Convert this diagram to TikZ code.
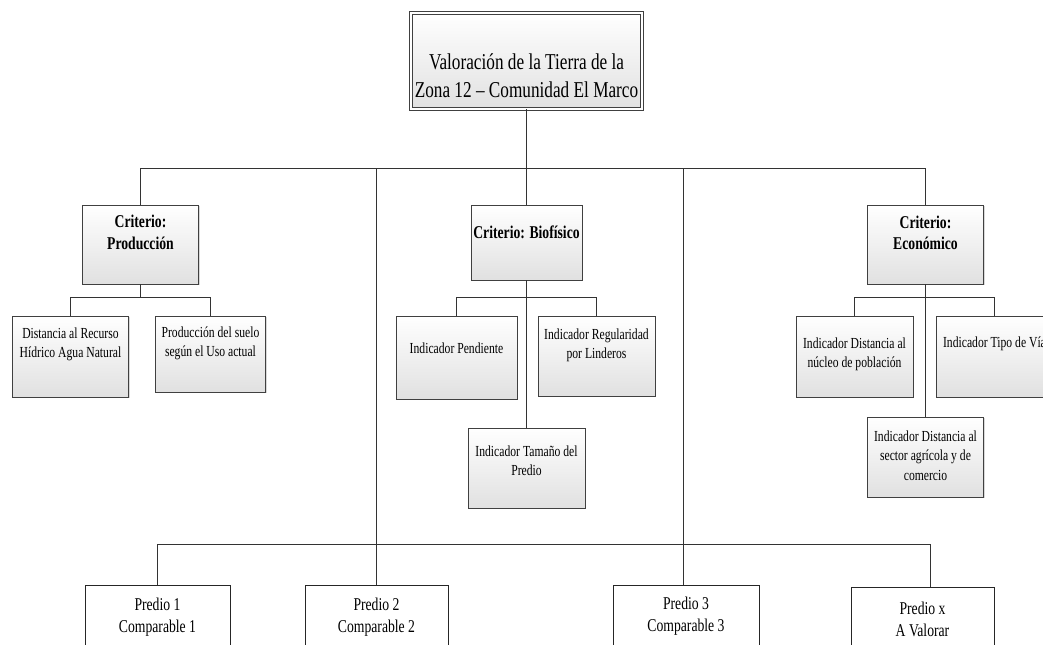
\documentclass[tikz,border=0pt]{standalone}
\usepackage{fontspec}
\setmainfont{Liberation Serif}[FakeStretch=0.76]
\usetikzlibrary{shadows}

\begin{document}
\begin{tikzpicture}[x=0.75pt, y=-0.75pt,
    medida/.style 2 args={minimum width=#1*0.75pt, minimum height=#2*0.75pt},
    caja/.style={draw=black!75, line width=0.7pt, top color=white, bottom color=black!12,
        drop shadow={shadow xshift=1pt, shadow yshift=-1pt, opacity=0.3}, inner sep=0},
    predio/.style={draw=black!85, line width=0.7pt, fill=white, inner sep=0},
    txt/.style={align=center, inner sep=0, font=\fontsize{11.5}{14.5}\selectfont},
    crit/.style={txt, font=\fontsize{13.5}{16}\selectfont\bfseries},
    linea/.style={draw=black!80, line width=0.8pt}]
    \useasboundingbox (0,0) rectangle (1043,644);
    \clip (0,0) rectangle (1043,644);
    % raiz
    \node[caja, double, double distance=1.5pt, medida={231}{96}] (tit) at (526.5,61) {};
    \node[txt, font=\fontsize{17}{21}\selectfont] (tit-t) at (526.5,76) {Valoración de la Tierra de la\\Zona 12 – Comunidad El Marco};
    % criterios
    \node[caja, medida={116}{79}] (crp) at (140.5,244.5) {};
    \node[crit] (crp-t) at (140.5,232.5) {Criterio:\\Producción};
    \node[caja, medida={111}{75}] (crb) at (526.5,242.5) {};
    \node[crit] (crb-t) at (526.5,232) {Criterio: Biofísico};
    \node[caja, medida={116}{79}] (cre) at (925.5,244.5) {};
    \node[crit] (cre-t) at (925.5,233) {Criterio:\\Económico};
    % indicadores produccion
    \node[caja, medida={116}{81}] (dist) at (70.5,356.5) {};
    \node[txt] (dist-t) at (70.5,344.5) {Distancia al Recurso\\Hídrico Agua Natural};
    \node[caja, medida={110}{76}] (prods) at (210.5,354) {};
    \node[txt] (prods-t) at (210.5,343) {Producción del suelo\\según el Uso actual};
    % indicadores biofisico
    \node[caja, medida={121}{83}] (pend) at (456.5,357.5) {};
    \node[txt] (pend-t) at (456.5,348) {Indicador Pendiente};
    \node[caja, medida={117}{80}] (regul) at (596.5,356) {};
    \node[txt] (regul-t) at (596.5,345.5) {Indicador Regularidad\\por Linderos};
    \node[caja, medida={117}{80}] (tam) at (526.5,468) {};
    \node[txt] (tam-t) at (526.5,460.5) {Indicador Tamaño del\\Predio};
    % indicadores economico
    \node[caja, medida={117}{81}] (nucleo) at (854.5,356.5) {};
    \node[txt] (nucleo-t) at (854.5,354) {Indicador Distancia al\\núcleo de población};
    \node[caja, medida={117}{81}] (via) at (994.5,356.5) {};
    \node[txt] (via-t) at (994.5,344) {Indicador Tipo de Vía};
    \node[caja, medida={116}{80}] (agri) at (925.5,457) {};
    \node[txt] (agri-t) at (925.5,455.5) {Indicador Distancia al\\sector agrícola y de\\comercio};
    % predios
    \node[predio, medida={145}{80}] (p1) at (157.5,625) {};
    \node[txt, font=\fontsize{13.5}{16.5}\selectfont] (p1-t) at (157.5,617) {Predio 1\\Comparable 1};
    \node[predio, medida={143}{80}] (p2) at (376.5,625) {};
    \node[txt, font=\fontsize{13.5}{16.5}\selectfont] (p2-t) at (376.5,617) {Predio 2\\Comparable 2};
    \node[predio, medida={146}{80}] (p3) at (686,625) {};
    \node[txt, font=\fontsize{13.5}{16.5}\selectfont] (p3-t) at (686,616.5) {Predio 3\\Comparable 3};
    \node[predio, medida={143}{80}] (px) at (922.5,627) {};
    \node[txt, font=\fontsize{13.5}{16.5}\selectfont] (px-t) at (922.5,619) {Predio x\\A Valorar};
    % conectores
    \coordinate (b1) at (526.5,168.5);
    \coordinate (v2) at (376.5,168.5);
    \coordinate (v3) at (683.5,168.5);
    \coordinate (b2) at (930.5,544.5);
    \draw[linea] (tit) -- (b1);
    \draw[linea] (crp.north) |- (b1) -| (cre.north);
    \draw[linea] (b1) -- (crb.north);
    \draw[linea] (v2) -- (p2.north);
    \draw[linea] (v3) -- (v3 |- p3.north);
    \draw[linea] (p1.north) |- (b2) -- (b2 |- px.north);
    \draw[linea] (crp.south) -- ++(0,13) coordinate (bp);
    \draw[linea] (dist.north) |- (bp) -| (prods.north);
    \draw[linea] (crb.south) -- ++(0,17) coordinate (bb);
    \draw[linea] (pend.north) |- (bb) -| (regul.north);
    \draw[linea] (bb) -- (tam.north);
    \draw[linea] (cre.south) -- ++(0,13) coordinate (be);
    \draw[linea] (nucleo.north) |- (be) -| (via.north);
    \draw[linea] (be) -- (agri.north);
\end{tikzpicture}
\end{document}
